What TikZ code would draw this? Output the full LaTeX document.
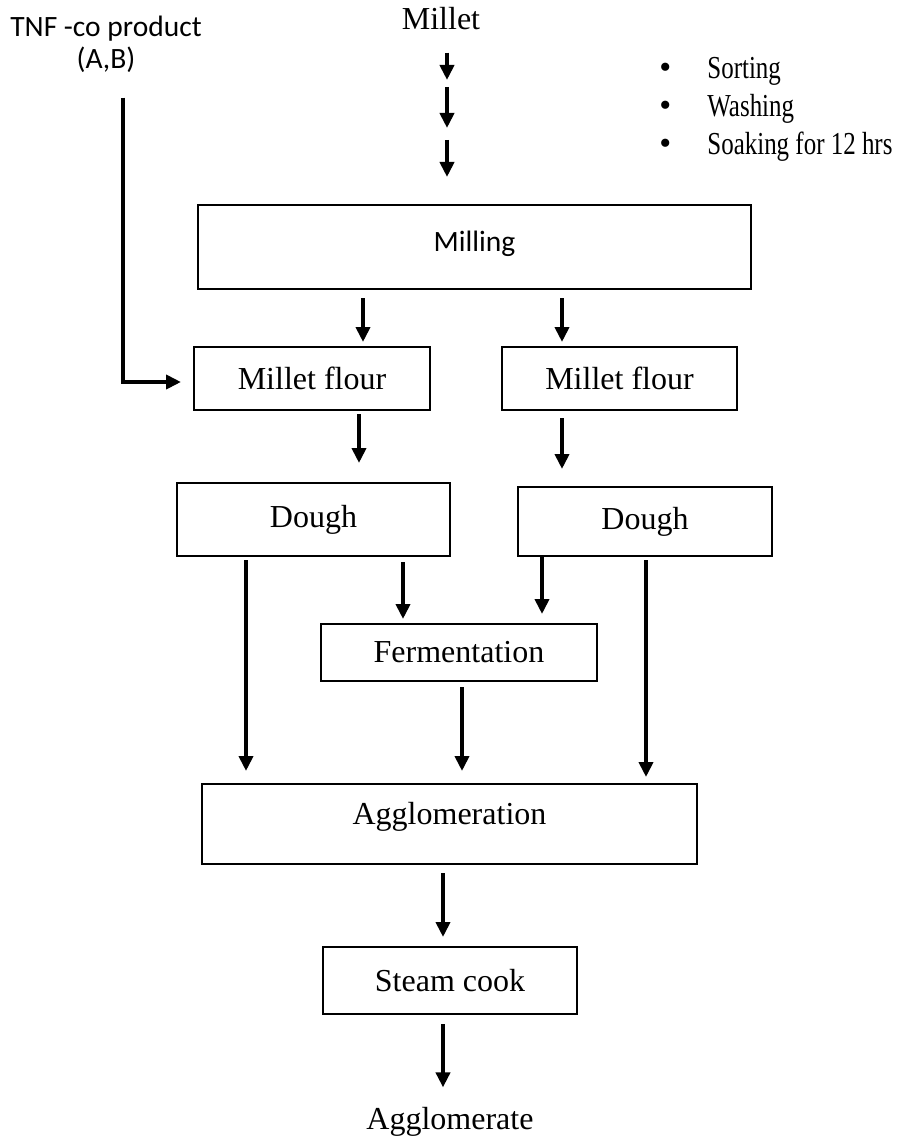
\documentclass[tikz,border=0pt]{standalone}
\usepackage{fontspec}
\setmainfont{Liberation Serif}
\newfontfamily\calfont{Carlito}
\newfontfamily\condfont[FakeStretch=0.78]{Liberation Serif}
\usetikzlibrary{arrows.meta,calc}

\newcommand{\bulletmark}{\makebox[24pt][l]{\rmfamily\fontsize{17}{19}\selectfont\textbullet}}

\tikzset{
    box/.style={draw, line width=1pt, inner sep=0pt, font=\fontsize{16}{19}\selectfont},
    txt/.style={inner sep=0pt, font=\fontsize{16}{19}\selectfont},
    prep/.style={anchor=base west, inner sep=0pt, font=\condfont\fontsize{16}{18}\selectfont},
    flow/.style={line width=2.4pt, -{Triangle[length=7.5pt,width=7pt]}},
}

\begin{document}
\begin{tikzpicture}[x=0.5pt,y=-0.5pt]
    \useasboundingbox (0,0) rectangle (902,1139);

    % inputs
    \node [inner sep=0pt, align=center, font=\calfont\fontsize{14.75}{16}\selectfont] (tnf) at (106,44) {TNF -co product\\(A,B)};
    \node [txt, anchor=base] (millet) at (441,30) {Millet};

    \node [prep] (sorting) at (659,79) {\bulletmark Sorting};
    \node [prep] (washing) at (659,117) {\bulletmark Washing};
    \node [prep] (soaking) at (659,155) {\bulletmark Soaking for 12 hrs};

    % process steps
    \node [box, minimum width=276.5pt, minimum height=42pt, text height=9pt, text depth=5pt,
        font=\calfont\fontsize{14.75}{18}\selectfont] (milling) at (474.5,247) {Milling};

    \node [box, minimum width=118pt, minimum height=31.5pt] (flourL) at (312,378.5) {Millet flour};
    \node [box, minimum width=117.5pt, minimum height=31.5pt] (flourR) at (619.5,378.5) {Millet flour};

    \node [box, minimum width=136.5pt, minimum height=36.5pt] (doughL) at (313.5,519.5) {Dough};
    \node [box, minimum width=127pt, minimum height=34.5pt] (doughR) at (645,521.5) {Dough};

    \node [box, minimum width=138pt, minimum height=28.5pt] (ferm) at (459,652.5) {Fermentation};

    \node [box, minimum width=247.5pt, minimum height=40pt, text height=8pt, text depth=8pt] (agglo) at (449.5,824) {Agglomeration};
    \node [box, minimum width=127pt, minimum height=33.5pt] (steam) at (450,980.5) {Steam cook};

    \node [txt, anchor=base] (product) at (450,1129) {Agglomerate};

    % millet pre-treatment arrows
    \coordinate (s1) at (447,84);
    \coordinate (s2) at (447,134);
    \draw [flow, shorten <=11pt, shorten >=2pt] (s1 |- millet.south) -- (s1);
    \draw [flow, shorten <=1.5pt, shorten >=3pt] (s1) -- (s2);
    \draw [flow, shorten <=3pt, shorten >=13.5pt] (s2) -- (s2 |- milling.north);

    % co product into the flour
    \coordinate (bend) at (123,382);
    \draw [flow, shorten <=12.5pt, shorten >=6pt] (bend |- tnf.south) -- (bend) -- (flourL.west |- bend);

    \draw [flow] ($(milling.south)+(-111.5,8)$) -- ($(flourL.north)+(51,-4)$);
    \draw [flow] ($(milling.south)+(87.5,8)$) -- ($(flourR.north)+(-57.5,-4)$);

    \draw [flow] ($(flourL.south)+(47,3)$) -- ($(doughL.north)+(45.5,-19)$);
    \draw [flow] ($(flourR.south)+(-57.5,7)$) -- ($(doughR.north)+(-83,-17)$);

    % dough to fermentation
    \draw [flow] ($(doughL.south)+(89.5,5)$) -- ($(ferm.north)+(-56,-4)$);
    \draw [flow] ($(doughR.south)+(-103,0)$) -- ($(ferm.north)+(83,-9)$);

    % into agglomeration
    \draw [flow] ($(doughL.south)+(-67.5,3)$) -- ($(agglo.north)+(-203.5,-12)$);
    \draw [flow] ($(ferm.south)+(3,5)$) -- ($(agglo.north)+(12.5,-12)$);
    \draw [flow] ($(doughR.south)+(1,3)$) -- ($(agglo.north)+(196.5,-6)$);

    \draw [flow] ($(agglo.south)+(-6.5,8)$) -- ($(steam.north)+(-7,-9)$);
    \draw [flow] ($(steam.south)+(-7,9)$) -- ($(product.north)+(-7,-19)$);

\end{tikzpicture}
\end{document}
